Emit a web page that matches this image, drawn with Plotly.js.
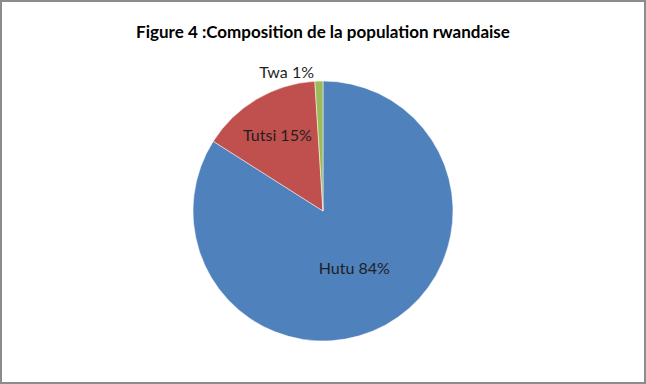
<!DOCTYPE html>
<html><head><meta charset="utf-8">
<script src="https://cdn.plot.ly/plotly-3.0.1.min.js"></script>
<style>
html,body{margin:0;padding:0;background:#fff;}
#chart{width:642px;height:380px;border:2px solid #8c8c8c;}
</style></head>
<body><div id="chart"></div>
<script>
const categories = ["Hutu", "Tutsi", "Twa"];
const values = [84, 15, 1];
const colors = ["#4F81BD", "#C0504D", "#9BBB59"];
const positions = ["inside", "inside", "outside"];

const trace = {
  type: "pie",
  labels: categories,
  values: values,
  sort: false,
  direction: "clockwise",
  rotation: 0,
  marker: {colors: colors, line: {color: "#ffffff", width: 0.5}},
  texttemplate: "%{label} %{value}%",
  textposition: positions,
  insidetextorientation: "horizontal",
  textfont: {family: "Lato, 'Open Sans', sans-serif", size: 16, color: "#1f1f1f"},
  outsidetextfont: {family: "Lato, 'Open Sans', sans-serif", size: 16, color: "#1f1f1f"},
  hoverinfo: "label+percent",
  domain: {x: [0.2975, 0.7025], y: [0.1079, 0.7921]},
  automargin: false
};

const layout = {
  width: 642, height: 380,
  margin: {l: 0, r: 0, t: 0, b: 0},
  showlegend: false,
  paper_bgcolor: "#ffffff",
  title: {
    text: "<b>Figure 4 :Composition de la population rwandaise</b>",
    font: {family: "Lato, 'Open Sans', sans-serif", size: 17, color: "#000000"},
    x: 0.5, xanchor: "center", xref: "paper",
    y: 1 - 30/380, yanchor: "middle", yref: "container"
  }
};

Plotly.newPlot("chart", [trace], layout, {staticPlot: true});
</script></body></html>
